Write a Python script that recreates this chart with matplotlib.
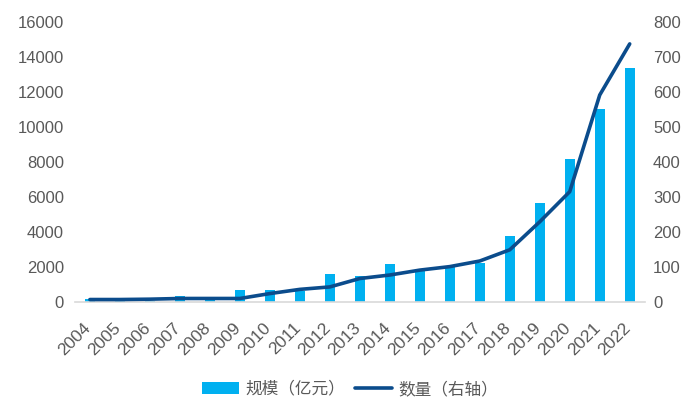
import matplotlib
matplotlib.use("Agg")
import matplotlib.pyplot as plt
import matplotlib.transforms as mtransforms
import numpy as np

plt.rcParams['font.family'] = ['Liberation Sans', 'Noto Sans CJK SC', 'DejaVu Sans']

# data
years = [str(y) for y in range(2004, 2023)]
scale = [190, 110, 70, 365, 110, 710, 700, 640, 1580, 1470, 2150, 1870, 2020, 2250,
         3770, 5670, 8150, 11010, 13370]   # 规模（亿元）
count = [7, 7, 8, 10, 10, 10, 24, 36, 43, 67, 77, 91, 101, 117,
         149, 229, 315, 591, 737]           # 数量（右轴）

bar_color = '#00B0F0'
line_color = '#0B4C8C'
text_color = '#595959'

fig = plt.figure(figsize=(7, 4.2), dpi=100)
ax = fig.add_axes([0.107, 0.281, 0.814, 0.667])
ax2 = ax.twinx()

x = np.arange(len(years))
bars = ax.bar(x, scale, width=0.32, color=bar_color, label='规模（亿元）', zorder=2)
line, = ax2.plot(x, count, color=line_color, lw=2.6, label='数量（右轴）',
                 solid_capstyle='round', zorder=3)

ax.set_xlim(-0.5, len(years) - 0.5)
ax.set_ylim(0, 16000)
ax.set_yticks(range(0, 16001, 2000))
ax2.set_ylim(0, 800)
ax2.set_yticks(range(0, 801, 100))

ax.set_xticks(x)
ax.set_xticklabels(years, rotation=45, ha='right', rotation_mode='anchor')

for a in (ax, ax2):
    for s in a.spines.values():
        s.set_visible(False)
    a.tick_params(length=0, labelsize=12, labelcolor=text_color)
ax.spines['bottom'].set_visible(True)
ax.spines['bottom'].set_color('#D9D9D9')
ax.spines['bottom'].set_linewidth(1.2)
ax.tick_params(axis='x', pad=6, labelsize=12.5)
ax.tick_params(axis='y', pad=8)
ax2.tick_params(axis='y', pad=6)

# labels sit a little lower and to the left of the ticks in the original
offset = mtransforms.ScaledTranslation(-5 / 72, -7 / 72, fig.dpi_scale_trans)
for lab in ax.get_xticklabels():
    lab.set_transform(lab.get_transform() + offset)

ax2.set_zorder(ax.get_zorder() + 1)
ax2.patch.set_visible(False)

fig.legend([bars, line], ['规模（亿元）', '数量（右轴）'], loc='center',
           bbox_to_anchor=(0.5, 0.073), ncol=2, frameon=False,
           labelcolor=text_color, handlelength=2.2, handletextpad=0.4,
           columnspacing=0.6, prop={'family': ['Noto Sans CJK SC'], 'size': 12})

fig.savefig('out.png', dpi=100)
